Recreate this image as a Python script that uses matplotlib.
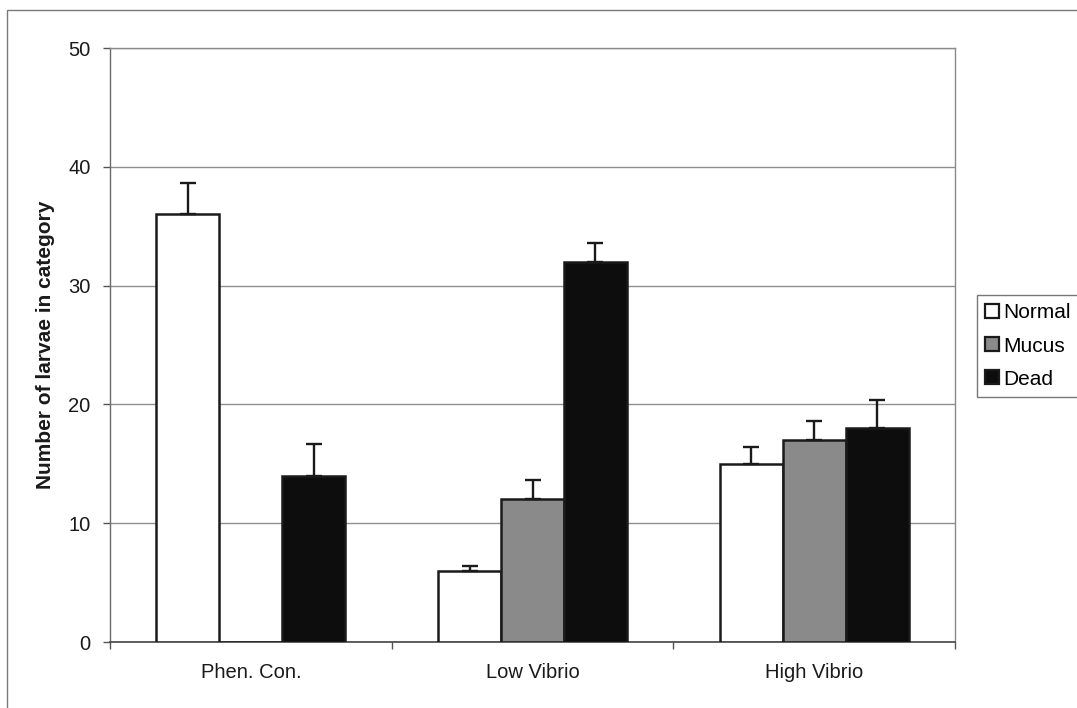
import matplotlib
matplotlib.use("Agg")
import matplotlib.pyplot as plt
import numpy as np
from matplotlib.patches import Rectangle, Patch
from matplotlib.ticker import FixedLocator, NullFormatter

plt.rcParams['font.family'] = ['Liberation Sans', 'DejaVu Sans']

# Data
categories = ["Phen. Con.", "Low Vibrio", "High Vibrio"]
series_names = ["Normal", "Mucus", "Dead"]
normal = [36, 6, 15]
mucus = [0, 12, 17]
dead = [14, 32, 18]
normal_err = [2.6, 0.4, 1.4]
mucus_err = [0, 1.6, 1.6]
dead_err = [2.7, 1.6, 2.4]

values = [normal, mucus, dead]
errors = [normal_err, mucus_err, dead_err]
fills = ["#ffffff", "#8a8a8a", "#0d0d0d"]

W, H = 1077, 708
fig = plt.figure(figsize=(W / 100, H / 100), dpi=100)
fig.patch.set_facecolor("white")

# outer chart frame
fig.patches.append(Rectangle((7 / W, -0.1), 1.2, 1.1 - 10 / H,
                             transform=fig.transFigure, fill=False,
                             edgecolor="#7a7a7a", lw=1.0))

ax = fig.add_axes([110 / W, 66 / H, 845 / W, 594 / H])
x = np.arange(len(categories))
bw = 0.2236

for i, (vals, errs, fc) in enumerate(zip(values, errors, fills)):
    pos = x + (i - 1) * bw
    ax.bar(pos, vals, width=bw, color=fc, edgecolor="#1a1a1a",
           linewidth=1.8, zorder=3, label=series_names[i])
    nz = [j for j, e in enumerate(errs) if e > 0]
    ax.errorbar(pos[nz], np.array(vals)[nz],
                yerr=[np.zeros(len(nz)), np.array(errs)[nz]],
                fmt="none", ecolor="#1a1a1a", elinewidth=1.7,
                capsize=5.8, capthick=1.7, zorder=4)

ax.set_xlim(-0.5, 2.5)
ax.set_ylim(0, 50)
ax.set_yticks([0, 10, 20, 30, 40, 50])
ax.yaxis.grid(True, color="#8f8f8f", lw=1.0)
ax.set_axisbelow(True)

# category boundaries carry the tick marks, labels sit at the centres
ax.xaxis.set_major_locator(FixedLocator([-0.5, 0.5, 1.5, 2.5]))
ax.xaxis.set_major_formatter(NullFormatter())
ax.xaxis.set_minor_locator(FixedLocator(x))
ax.set_xticklabels(categories, minor=True)
ax.tick_params(axis="x", which="major", length=5, width=1, color="#555555", direction="out")
ax.tick_params(axis="x", which="minor", length=0, labelsize=14.5, pad=15, colors="#1a1a1a")
ax.tick_params(axis="y", length=5, width=1, color="#555555", labelsize=14.5,
               pad=9, labelcolor="#1a1a1a")

for side in ["top", "right"]:
    ax.spines[side].set_color("#8a8a8a")
    ax.spines[side].set_linewidth(1.0)
ax.spines["left"].set_color("#6a6a6a")
ax.spines["left"].set_linewidth(1.0)
ax.spines["bottom"].set_color("#444444")
ax.spines["bottom"].set_linewidth(1.2)

fig.text(46 / W, 1 - 345 / H, "Number of larvae in category", rotation=90,
         ha="center", va="center", fontsize=15, fontweight="bold", color="#1a1a1a")

handles = [Patch(facecolor=fc, edgecolor="#1a1a1a", linewidth=1.6) for fc in fills]
leg = fig.legend(handles, series_names, loc="upper left",
                 bbox_to_anchor=(977 / W, 1 - 295 / H),
                 fontsize=15, frameon=True, fancybox=False,
                 handlelength=0.65, handleheight=0.65, handletextpad=0.2,
                 borderpad=0.4, labelspacing=0.68, borderaxespad=0)
leg.get_frame().set_edgecolor("#555555")
leg.get_frame().set_linewidth(1.0)

fig.savefig("out.png", dpi=100, facecolor="white")
